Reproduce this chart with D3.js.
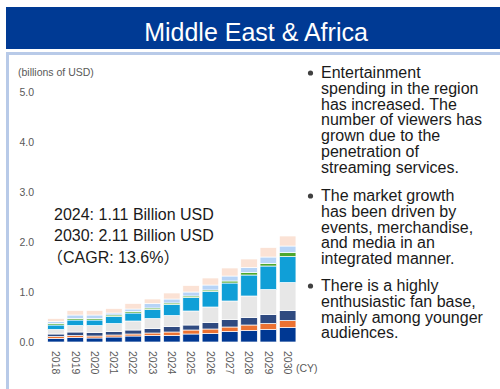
<!DOCTYPE html>
<html>
<head>
<meta charset="utf-8">
<script src="https://cdn.jsdelivr.net/npm/d3@7"></script>
<style>
  body { margin: 0; background: #fff; }
  svg { display: block; font-family: "Liberation Sans", Arial, "Noto Sans CJK JP", sans-serif; }
</style>
</head>
<body>
<svg id="chart" width="500" height="389"></svg>
<script>
// values (billions of USD), bottom segment first
var years = ['2018','2019','2020','2021','2022','2023','2024','2025','2026','2027','2028','2029','2030']
var darkBlue   = [0.07, 0.09, 0.08, 0.10, 0.12, 0.13, 0.13, 0.16, 0.17, 0.21, 0.23, 0.25, 0.29]
var orange     = [0.04, 0.04, 0.04, 0.04, 0.04, 0.05, 0.07, 0.08, 0.09, 0.09, 0.11, 0.12, 0.14]
var slate      = [0.05, 0.07, 0.07, 0.07, 0.08, 0.09, 0.11, 0.10, 0.13, 0.15, 0.15, 0.18, 0.20]
var lightGray  = [0.09, 0.13, 0.14, 0.16, 0.18, 0.20, 0.22, 0.28, 0.31, 0.37, 0.43, 0.50, 0.56]
var brightBlue = [0.09, 0.11, 0.11, 0.14, 0.16, 0.18, 0.22, 0.27, 0.31, 0.36, 0.42, 0.47, 0.52]
var green      = [0.03, 0.03, 0.03, 0.03, 0.03, 0.03, 0.03, 0.03, 0.03, 0.04, 0.05, 0.05, 0.08]
var paleBlue   = [0.04, 0.07, 0.07, 0.04, 0.05, 0.09, 0.08, 0.08, 0.10, 0.10, 0.10, 0.13, 0.13]
var peach      = [0.06, 0.09, 0.09, 0.09, 0.11, 0.09, 0.12, 0.13, 0.14, 0.16, 0.17, 0.19, 0.20]
var yTicks = [0, 1, 2, 3, 4, 5]

var seriesNames = ['darkBlue','orange','slate','lightGray','brightBlue','green','paleBlue','peach']
var seriesVals = [darkBlue, orange, slate, lightGray, brightBlue, green, paleBlue, peach]
var colors = ['#003893', '#ec7232', '#2f4a80', '#e7e7e7', '#109fd7', '#4ea72e', '#b7d4f7', '#fbe2d5']

var bullets = [
  ['Entertainment', 'spending in the region', 'has increased. The', 'number of viewers has', 'grown due to the', 'penetration of', 'streaming services.'],
  ['The market growth', 'has been driven by', 'events, merchandise,', 'and media in an', 'integrated manner.'],
  ['There is a highly', 'enthusiastic fan base,', 'mainly among younger', 'audiences.']
]

var svg = d3.select('#chart')

// header band
svg.append('rect').attr('x', 6).attr('y', 7).attr('width', 494).attr('height', 42).attr('fill', '#003a94')
svg.append('text')
  .attr('x', 256).attr('y', 40.5)
  .attr('text-anchor', 'middle')
  .style('font-size', '25px')
  .style('fill', 'white')
  .text('Middle East & Africa')

// panel border
svg.append('rect').attr('x', 6).attr('y', 52).attr('width', 494).attr('height', 3).attr('fill', '#b8cae8')
svg.append('rect').attr('x', 6).attr('y', 52).attr('width', 3).attr('height', 337).attr('fill', '#b8cae8')

var table = years.map(function(y, i){
  var row = {year: y}
  seriesNames.forEach(function(n, k){ row[n] = seriesVals[k][i] })
  return row
})

var xScale = d3.scaleBand().domain(years).range([46.3, 297.3]).paddingInner(0.14).paddingOuter(0.07)
var yScale = d3.scaleLinear().domain([0, 5]).range([342, 92])

var stack = d3.stack().keys(seriesNames)(table)

svg.append('g').selectAll('g')
  .data(stack)
  .enter().append('g')
    .attr('fill', function(d, i){ return colors[i] })
  .selectAll('rect')
  .data(function(d){ return d })
  .enter().append('rect')
    .attr('x', function(d){ return xScale(d.data.year) })
    .attr('y', function(d){ return yScale(d[1]) })
    .attr('width', xScale.bandwidth())
    .attr('height', function(d){ return yScale(d[0]) - yScale(d[1]) })
    .attr('stroke', 'white')
    .attr('stroke-width', 0.7)

// y axis labels
svg.append('g').selectAll('text')
  .data(yTicks)
  .enter().append('text')
    .attr('x', 34)
    .attr('y', function(d){ return yScale(d) })
    .attr('dy', '0.35em')
    .attr('text-anchor', 'end')
    .style('font-size', '10.5px')
    .style('fill', '#595959')
    .text(function(d){ return d.toFixed(1) })

svg.append('text')
  .attr('x', 18).attr('y', 76)
  .style('font-size', '10.5px')
  .style('fill', '#595959')
  .text('(billions of USD)')

// x axis labels, rotated
svg.append('g').selectAll('text')
  .data(years)
  .enter().append('text')
    .attr('transform', function(d){ return 'translate(' + (xScale(d) + xScale.bandwidth()/2) + ',351) rotate(90)' })
    .attr('dy', '0.35em')
    .style('font-size', '10.5px')
    .style('fill', '#595959')
    .text(function(d){ return d })

svg.append('text')
  .attr('x', 296).attr('y', 372)
  .style('font-size', '10.5px')
  .style('fill', '#595959')
  .text('(CY)')

// annotation
var notes = ['2024: 1.11 Billion USD', '2030: 2.11 Billion USD', '（CAGR: 13.6%）']
svg.append('g').selectAll('text')
  .data(notes)
  .enter().append('text')
    .attr('x', function(d, i){ return i == 2 ? 47 : 54 })
    .attr('y', function(d, i){ return 219.5 + i*21.6 })
    .style('font-size', '16px')
    .style('fill', '#1a1a1a')
    .text(function(d){ return d })

// bullet text
var bulletTop = [78, 201, 291]
var lineH = 15.8
bullets.forEach(function(lines, b){
  svg.append('circle')
    .attr('cx', 310.5).attr('cy', bulletTop[b] - 5)
    .attr('r', 2.6)
    .attr('fill', '#404040')
  var t = svg.append('text')
    .attr('x', 321).attr('y', bulletTop[b])
    .style('font-size', '16px')
    .style('fill', '#1a1a1a')
  lines.forEach(function(l, i){
    t.append('tspan').attr('x', 321).attr('y', bulletTop[b] + i*lineH).text(l)
  })
})
</script>
</body>
</html>
